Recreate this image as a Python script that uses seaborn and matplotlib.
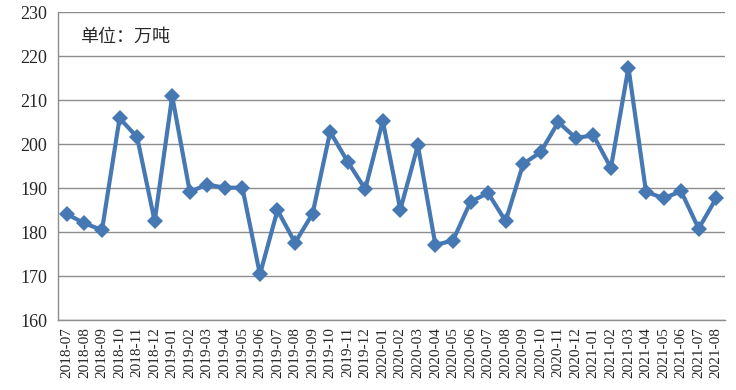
import matplotlib
matplotlib.use("Agg")
import matplotlib.pyplot as plt
import matplotlib.ticker as mticker
import seaborn as sns
import pandas as pd

# monthly output, unit: 10k tonnes
months = ['2018-07', '2018-08', '2018-09', '2018-10', '2018-11', '2018-12',
          '2019-01', '2019-02', '2019-03', '2019-04', '2019-05', '2019-06',
          '2019-07', '2019-08', '2019-09', '2019-10', '2019-11', '2019-12',
          '2020-01', '2020-02', '2020-03', '2020-04', '2020-05', '2020-06',
          '2020-07', '2020-08', '2020-09', '2020-10', '2020-11', '2020-12',
          '2021-01', '2021-02', '2021-03', '2021-04', '2021-05', '2021-06',
          '2021-07', '2021-08']
values = [184.1, 182.0, 180.5, 205.9, 201.6, 182.5,
          210.9, 189.2, 190.8, 190.1, 190.1, 170.4,
          185.0, 177.6, 184.2, 202.8, 196.0, 189.8,
          205.3, 185.1, 199.7, 177.1, 178.1, 186.9,
          188.9, 182.5, 195.5, 198.2, 205.0, 201.4,
          202.0, 194.6, 217.4, 189.2, 187.7, 189.3,
          180.8, 187.7]
yticks = [160, 170, 180, 190, 200, 210, 220, 230]

df = pd.DataFrame({'month': months, 'value': values})

sns.set_style("white")
plt.rcParams['font.family'] = ['Liberation Serif', 'Noto Sans CJK SC']

fig = plt.figure(figsize=(7.36, 3.90), dpi=100)
ax = fig.add_axes([0.079, 0.179, 0.906, 0.79])

sns.lineplot(data=df, x='month', y='value', ax=ax, color='#4678B4',
             linewidth=3.0, marker='D', markersize=8.5, markeredgewidth=0,
             sort=False, zorder=3)

n = len(months)
ax.set_xlim(-0.5, n - 0.5)
ax.set_ylim(yticks[0], yticks[-1])
ax.set_yticks(yticks)
ax.set_xticks(range(n))
ax.set_xticklabels(months, rotation=90, fontsize=11)
ax.xaxis.set_minor_locator(mticker.FixedLocator([i - 0.5 for i in range(n + 1)]))
ax.tick_params(axis='x', which='major', length=0, pad=5)
ax.tick_params(axis='x', which='minor', length=4, color='#888888', direction='out')
ax.tick_params(axis='y', length=4, color='#888888', direction='out', labelsize=13, pad=4)
ax.set_xlabel('')
ax.set_ylabel('')

ax.grid(axis='y', color='#8c8c8c', linewidth=1)
ax.set_axisbelow(True)
for side in ['top', 'right']:
    ax.spines[side].set_visible(False)
for side in ['left', 'bottom']:
    ax.spines[side].set_color('#8c8c8c')
    ax.spines[side].set_linewidth(1)

ax.text(0.033, 0.92, '单位：万吨', transform=ax.transAxes, fontsize=13,
        va='center', ha='left', family=['Noto Sans CJK SC', 'DejaVu Sans'])

fig.savefig('out.png', dpi=100)
